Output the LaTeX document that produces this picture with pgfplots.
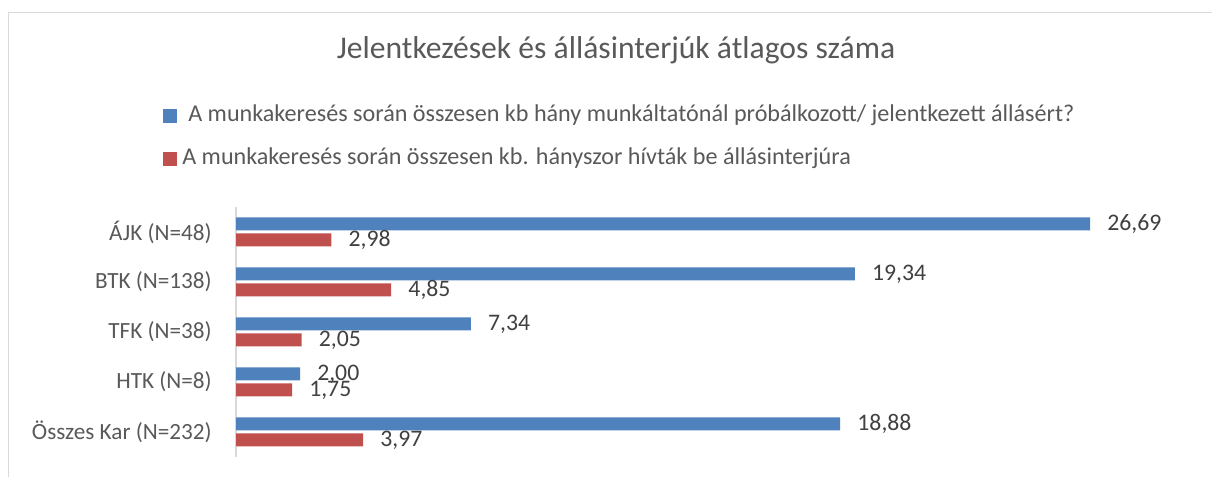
\documentclass[border=0pt]{standalone}
\usepackage{fontspec}
\setmainfont{Carlito}
\usepackage{pgfplots}
\pgfplotsset{compat=1.18}
\definecolor{cblue}{HTML}{4F81BD}
\definecolor{cred}{HTML}{C0504D}
\definecolor{ctext}{HTML}{595959}
\definecolor{clab}{HTML}{404040}
\definecolor{cline}{HTML}{D9D9D9}
\newcommand{\lblfont}{\fontsize{17.4pt}{21pt}\selectfont}
\newcommand{\numfont}{\fontsize{17.8pt}{21pt}\selectfont}
\newcommand{\legfont}{\fontsize{18.1pt}{21pt}\selectfont}
\begin{document}
\begin{tikzpicture}
\useasboundingbox (0,0) rectangle (909pt,357.75pt);
\draw[cline, line width=0.9pt] (6.4pt,-2pt) -- (6.4pt,348.4pt) -- (912pt,348.4pt);
\node[text=ctext, font=\fontsize{23.7pt}{28pt}\selectfont] at (462pt,320.25pt) {Jelentkezések és állásinterjúk átlagos száma};
\begin{axis}[
  at={(177pt,15pt)}, anchor=south west,
  scale only axis, width=720pt, height=187.5pt,
  xbar, bar width=9.75pt,
  xmin=0, xmax=30, ymin=-0.5, ymax=4.5,
  axis x line=none, axis y line*=left,
  y axis line style={cline, line width=1pt},
  xtick=\empty,
  ytick={0,1,2,3,4},
  yticklabels={Összes Kar (N=232), HTK (N=8), TFK (N=38), BTK (N=138), ÁJK (N=48)},
  major tick length=0pt,
  yticklabel style={font=\lblfont, text=ctext, inner sep=0pt, xshift=-18pt},
  /pgf/number format/assume math mode=true,
  point meta=x,
  nodes near coords={\pgfmathprintnumber[fixed,zerofill,precision=2,use comma]{\pgfplotspointmeta}},
  nodes near coords style={font=\numfont, text=clab, anchor=west, inner sep=0pt, xshift=12.75pt},
  legend cell align=left,
  legend image code/.code={\fill[#1] (0pt,-5.25pt) rectangle (10.5pt,5.25pt); \path (14.25pt,0pt);},
  legend style={at={(axis description cs:-0.076,1.412)}, anchor=north west, draw=none, fill=none,
    font=\legfont, text=ctext, row sep=15.25pt, inner sep=0pt,
    nodes={inner sep=0pt, text height=13pt, text depth=4pt}},
]
\addplot[fill=cblue, draw=none, bar shift=6pt] coordinates {(26.69,4) (19.34,3) (7.34,2) (2.00,1) (18.88,0)};
\addlegendentry{\hspace{4.5pt}A munkakeresés során összesen kb hány munkáltatónál próbálkozott/ jelentkezett állásért?}
\addplot[fill=cred, draw=none, bar shift=-6pt] coordinates {(2.98,4) (4.85,3) (2.05,2) (1.75,1) (3.97,0)};
\addlegendentry{A munkakeresés során összesen kb. hányszor hívták be állásinterjúra}
\end{axis}
\end{tikzpicture}
\end{document}
